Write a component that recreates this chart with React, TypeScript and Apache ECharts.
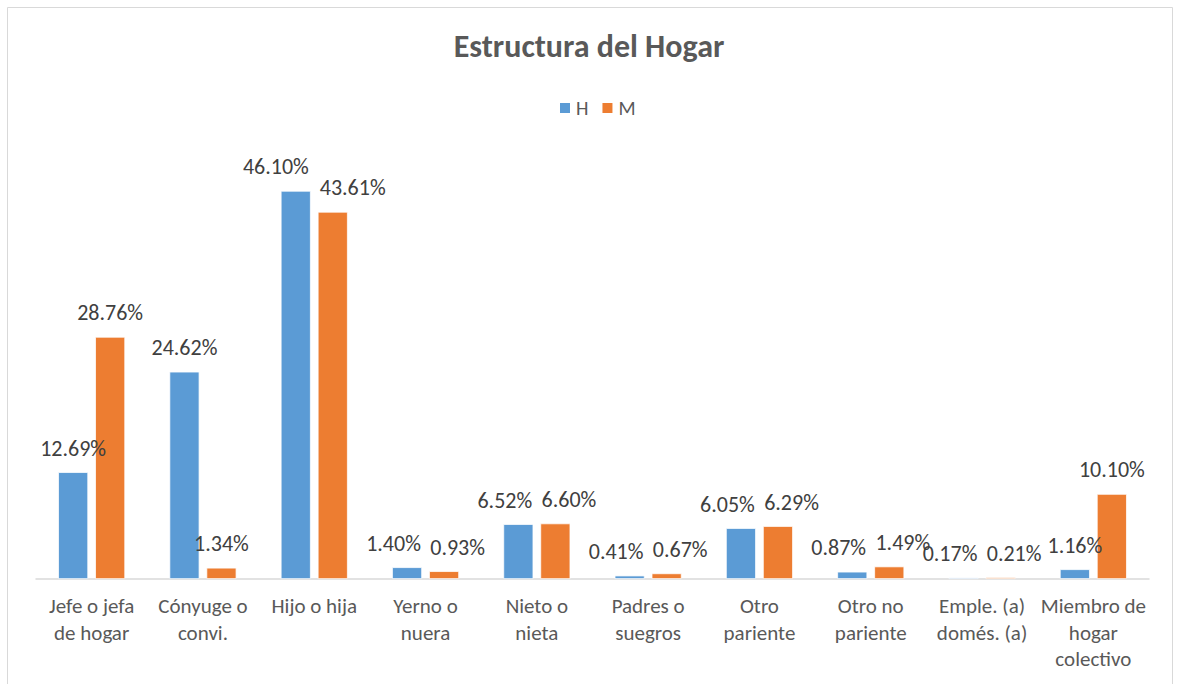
import React, { useEffect, useRef } from "react";
import * as echarts from "echarts";

const categories = [
  "Jefe o jefa\nde hogar",
  "Cónyuge o\nconvi.",
  "Hijo o hija",
  "Yerno o\nnuera",
  "Nieto o\nnieta",
  "Padres o\nsuegros",
  "Otro\npariente",
  "Otro no\npariente",
  "Emple. (a)\ndomés. (a)",
  "Miembro de\nhogar\ncolectivo",
];
const seriesH = [12.69, 24.62, 46.1, 1.4, 6.52, 0.41, 6.05, 0.87, 0.17, 1.16];
const seriesM = [28.76, 1.34, 43.61, 0.93, 6.6, 0.67, 6.29, 1.49, 0.21, 10.1];
const titleText = "Estructura del Hogar";
const seriesNames = ["H", "M"];

const FONT = "Carlito, Calibri, Lato, 'Open Sans', sans-serif";
const LABEL_SIZE = 22;
const LABEL_LH = 22;
const BAR_W = 30;
const BAR_GAP_PX = 7;
const GRID_TOP = 158;
const GRID_H = 421;
const Y_MAX = 50;

const fmt = (v: number) => v.toFixed(2) + "%";

function measure(text: string): number {
  const c = document.createElement("canvas").getContext("2d");
  if (!c) return text.length * LABEL_SIZE * 0.5;
  c.font = `${LABEL_SIZE}px Lato, sans-serif`;
  return c.measureText(text).width;
}

export default function App() {
  const ref = useRef<HTMLDivElement>(null);
  useEffect(() => {
    if (!ref.current) return;
    const chart = echarts.init(ref.current, undefined, { renderer: "svg" });

    // Excel-like de-overlap of the paired data labels
    const pxPerUnit = GRID_H / Y_MAX;
    const centerDist = BAR_W + BAR_GAP_PX;
    const offH: number[] = [];
    const offM: number[] = [];
    seriesH.forEach((h, i) => {
      const m = seriesM[i];
      const wH = measure(fmt(h));
      const wM = measure(fmt(m));
      const dy = Math.abs(h - m) * pxPerUnit;
      const overlap = wH / 2 + wM / 2 + 3 - centerDist;
      if (dy < LABEL_LH && overlap > 0) {
        offH.push(-overlap / 2);
        offM.push(overlap / 2);
      } else {
        offH.push(0);
        offM.push(0);
      }
    });

    const label = {
      show: true,
      position: "top" as const,
      distance: 13,
      color: "#404040",
      fontSize: LABEL_SIZE,
      fontFamily: FONT,
      lineHeight: LABEL_LH,
      formatter: (p: any) => fmt(Number(p.value)),
    };
    const dataH = seriesH.map((v, i) => ({ value: v, label: { offset: [offH[i], 0] } }));
    const dataM = seriesM.map((v, i) => ({ value: v, label: { offset: [offM[i], 0] } }));

    chart.setOption({
      animation: false,
      backgroundColor: "#fff",
      title: {
        text: titleText,
        left: "center",
        top: 25,
        textStyle: {
          fontSize: 32,
          fontWeight: "bold",
          color: "#595959",
          fontFamily: FONT,
        },
      },
      legend: {
        data: seriesNames,
        top: 93,
        left: 553,
        itemWidth: 12,
        itemHeight: 12,
        itemGap: 12,
        icon: "rect",
        textStyle: { fontSize: 20, color: "#595959", fontFamily: FONT },
      },
      graphic: [
        {
          type: "rect",
          shape: { x: 7.5, y: 7.5, width: 1165, height: 700 },
          style: { fill: "none", stroke: "#D9D9D9", lineWidth: 1 },
          silent: true,
        },
      ],
      grid: { left: 36, right: 29, top: GRID_TOP, height: GRID_H, containLabel: false },
      xAxis: {
        type: "category",
        data: categories,
        axisLine: { show: true, lineStyle: { color: "#D9D9D9", width: 1.5 } },
        axisTick: { show: false },
        axisLabel: {
          color: "#595959",
          fontSize: 21,
          fontFamily: FONT,
          lineHeight: 26.5,
          margin: 14,
          interval: 0,
        },
      },
      yAxis: {
        type: "value",
        min: 0,
        max: Y_MAX,
        show: false,
      },
      series: [
        {
          name: seriesNames[0],
          type: "bar",
          data: dataH,
          barWidth: BAR_W,
          barGap: (BAR_GAP_PX / BAR_W) * 100 + "%",
          itemStyle: { color: "#5B9BD5", borderColor: "#fff", borderWidth: 0.75 },
          label,
        },
        {
          name: seriesNames[1],
          type: "bar",
          data: dataM,
          barWidth: BAR_W,
          itemStyle: { color: "#ED7D31", borderColor: "#fff", borderWidth: 0.75 },
          label,
        },
      ],
    });
    return () => chart.dispose();
  }, []);
  return (
    <div
      ref={ref}
      style={{ position: "fixed", left: 0, top: 0, width: 1178, height: 684 }}
    />
  );
}
